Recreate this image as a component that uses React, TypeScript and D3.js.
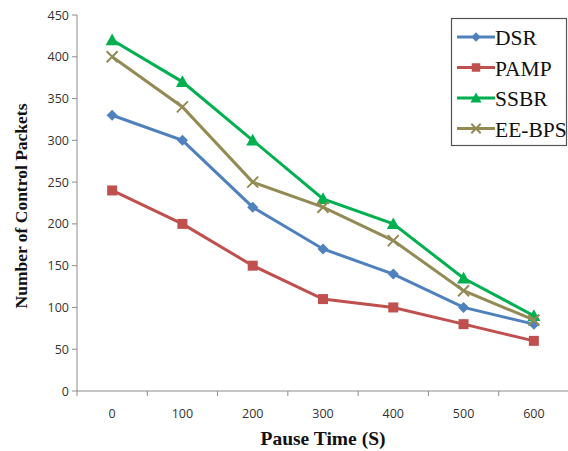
import React from "react";
import * as d3 from "d3";

const categories = ["0", "100", "200", "300", "400", "500", "600"];
const yTicks = [0, 50, 100, 150, 200, 250, 300, 350, 400, 450];

const dsr = [330, 300, 220, 170, 140, 100, 80];
const pamp = [240, 200, 150, 110, 100, 80, 60];
const ssbr = [420, 370, 300, 230, 200, 135, 90];
const eebps = [400, 340, 250, 220, 180, 120, 85];

const seriesList = [
  { name: "DSR", values: dsr, color: "#4F81BD", marker: "diamond" },
  { name: "PAMP", values: pamp, color: "#C0504D", marker: "square" },
  { name: "SSBR", values: ssbr, color: "#00B050", marker: "triangle" },
  { name: "EE-BPS", values: eebps, color: "#948A54", marker: "cross" },
];

const W = 568;
const H = 451;
const left = 77;
const right = 569;
const top = 15;
const bottom = 391;

function Marker({ type, x, y, color, k = 1 }: { type: string; x: number; y: number; color: string; k?: number }) {
  if (type === "diamond") {
    const s = 5.5 * k;
    return <path d={`M${x},${y - s}L${x + s},${y}L${x},${y + s}L${x - s},${y}Z`} fill={color} />;
  }
  if (type === "square") {
    const s = 5 * k;
    return <rect x={x - s} y={y - s} width={2 * s} height={2 * s} fill={color} />;
  }
  if (type === "triangle") {
    const s = 6.5 * k;
    return <path d={`M${x},${y - s}L${x + s},${y + s * 0.8}L${x - s},${y + s * 0.8}Z`} fill={color} />;
  }
  const s = 5.5 * k;
  return (
    <path
      d={`M${x - s},${y - s}L${x + s},${y + s}M${x + s},${y - s}L${x - s},${y + s}`}
      stroke={color}
      strokeWidth={2}
    />
  );
}

export default function App() {
  const x = d3.scaleBand<string>().domain(categories).range([left, right]);
  const y = d3.scaleLinear().domain([0, 450]).range([bottom, top]);
  const cx = (c: string) => (x(c) as number) + x.bandwidth() / 2;
  const line = d3
    .line<number>()
    .x((_, i) => cx(categories[i]))
    .y((v) => y(v));

  const axisColor = "#8c8c8c";
  const tickFont = "'Open Sans', 'DejaVu Sans', sans-serif";
  const serif = "'Liberation Serif', 'Times New Roman', serif";

  const boundaries = categories.map((c) => x(c) as number).concat([right]);

  return (
    <svg width={W} height={H} style={{ position: "absolute", left: 0, top: 0, background: "#fff" }}>
      {/* y axis */}
      <line x1={left} x2={left} y1={top} y2={bottom} stroke={axisColor} strokeWidth={1} />
      {yTicks.map((t) => (
        <g key={t}>
          <line x1={left - 5} x2={left} y1={y(t)} y2={y(t)} stroke={axisColor} />
          <text
            x={left - 8}
            y={y(t)}
            textAnchor="end"
            dominantBaseline="central"
            fontFamily={tickFont}
            fontSize={12.5}
            fill="#333"
          >
            {t}
          </text>
        </g>
      ))}
      {/* x axis */}
      <line x1={left} x2={W} y1={bottom} y2={bottom} stroke={axisColor} strokeWidth={1} />
      {boundaries.map((b, i) => (
        <line key={i} x1={b} x2={b} y1={bottom} y2={bottom + 5} stroke={axisColor} />
      ))}
      {categories.map((c) => (
        <text
          key={c}
          x={cx(c)}
          y={413}
          textAnchor="middle"
          dominantBaseline="central"
          fontFamily={tickFont}
          fontSize={12.5}
          fill="#333"
        >
          {c}
        </text>
      ))}

      {/* series */}
      {seriesList.map((s) => (
        <g key={s.name}>
          <path d={line(s.values) as string} fill="none" stroke={s.color} strokeWidth={3} />
          {s.values.map((v, i) => (
            <Marker key={i} type={s.marker} x={cx(categories[i])} y={y(v)} color={s.color} />
          ))}
        </g>
      ))}

      {/* axis titles */}
      <text
        transform={`translate(21,206) rotate(-90)`}
        textAnchor="middle"
        dominantBaseline="central"
        fontFamily={serif}
        fontWeight="bold"
        fontSize={17.5}
        fill="#111"
      >
        Number of Control Packets
      </text>
      <text
        x={323}
        y={438}
        textAnchor="middle"
        dominantBaseline="central"
        fontFamily={serif}
        fontWeight="bold"
        fontSize={19.5}
        fill="#111"
      >
        Pause Time (S)
      </text>

      {/* legend */}
      <rect x={451.5} y={18.5} width={115} height={127} fill="#fff" stroke="#555" strokeWidth={1.2} />
      {seriesList.map((s, i) => {
        const ly = 37 + i * 30.5;
        return (
          <g key={s.name}>
            <line x1={457} x2={495} y1={ly} y2={ly} stroke={s.color} strokeWidth={3} />
            <Marker type={s.marker} x={476} y={ly} color={s.color} k={0.85} />
            <text
              x={495}
              y={ly + 1}
              dominantBaseline="central"
              fontFamily={serif}
              fontSize={21.5}
              fill="#111"
            >
              {s.name}
            </text>
          </g>
        );
      })}
    </svg>
  );
}
